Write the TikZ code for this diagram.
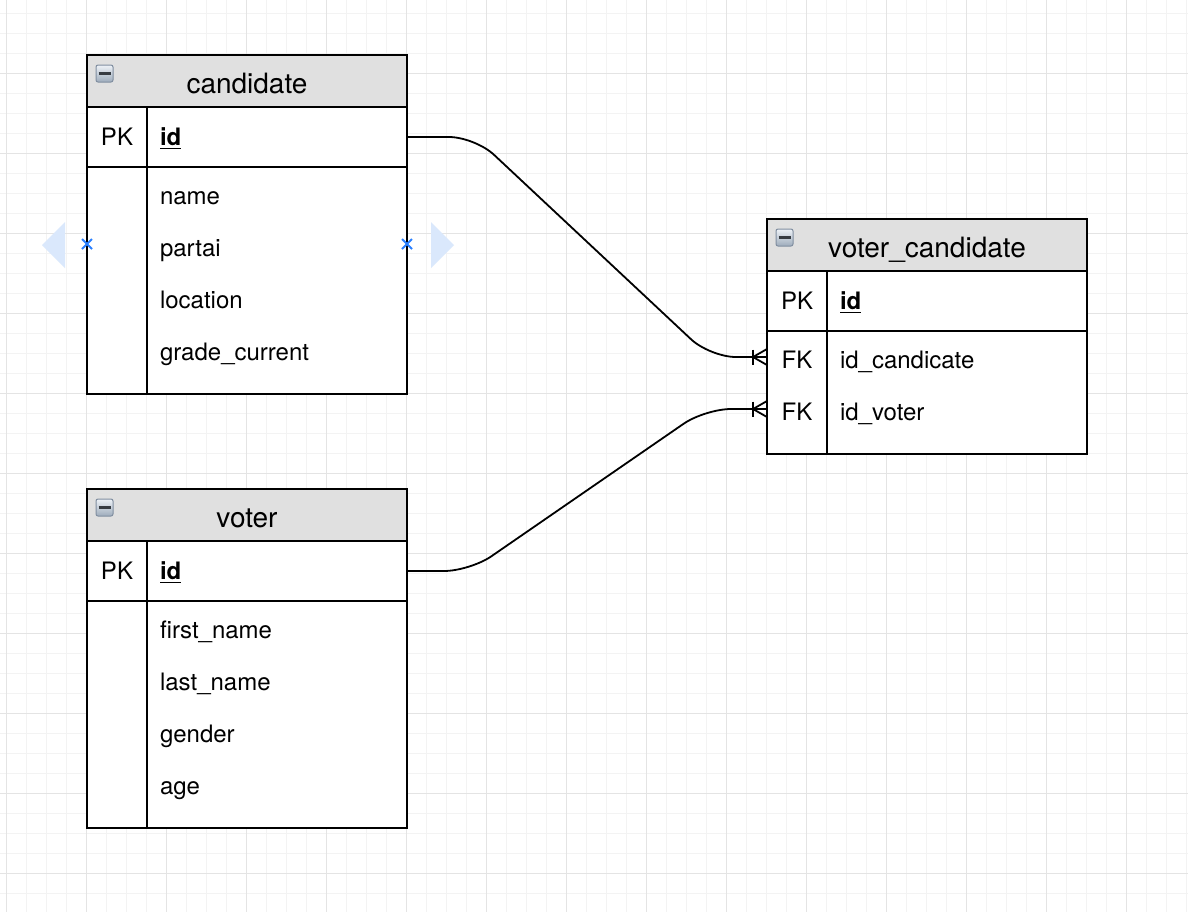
\documentclass[tikz,border=0pt]{standalone}
\usepackage{fontspec}
\setmainfont{TeX Gyre Heros}
\usepackage{tikz}
\usetikzlibrary{positioning, calc}

\definecolor{gridminor}{RGB}{243,243,243}
\definecolor{gridmajor}{RGB}{228,228,228}
\definecolor{headfill}{RGB}{224,224,224}
\definecolor{hoverblue}{RGB}{218,232,252}
\definecolor{pointblue}{RGB}{41,128,255}
\definecolor{icontop}{RGB}{238,242,247}
\definecolor{iconbottom}{RGB}{158,172,188}
\definecolor{iconedge}{RGB}{128,142,160}
\definecolor{icondash}{RGB}{55,60,66}

\tikzset{
  tablehead/.style={draw, line width=1pt, fill=headfill, minimum width=160pt,
    minimum height=26pt, inner sep=0, outer sep=0, text height=12pt, text depth=0pt,
    font=\fontsize{14pt}{16pt}\selectfont},
  pkrow/.style={draw, line width=1pt, fill=white, minimum width=160pt,
    minimum height=30pt, inner sep=0, outer sep=0},
  tablebody/.style={draw, line width=1pt, fill=white, minimum width=160pt,
    inner sep=0, outer sep=0},
  keycol/.style={minimum width=30pt, inner sep=0, outer sep=0, text height=10pt,
    text depth=2pt, font=\fontsize{12pt}{14pt}\selectfont},
  field/.style={anchor=west, inner sep=0, outer sep=0, text height=10pt, text depth=2pt,
    font=\fontsize{12pt}{14pt}\selectfont},
  nextfield/.style={below=14pt of #1.south west, anchor=north west},
  iconbox/.style={draw=iconedge, line width=0.5pt, rounded corners=1pt,
    minimum size=8.5pt, inner sep=0, top color=icontop, bottom color=iconbottom,
    path picture={\draw[line width=1.5pt, icondash]
      ([xshift=-3pt]path picture bounding box.center) --
      ([xshift=3pt]path picture bounding box.center);}},
  link/.style={line width=0.9pt, rounded corners=13pt},
  crow/.style={line width=0.9pt}
}

\begin{document}
\begin{tikzpicture}[x=0.5pt, y=-0.5pt]
  \useasboundingbox (0,0) rectangle (1188,912);
  \fill[white] (0,0) rectangle (1188,912);

  % grid
  \foreach \x in {6.5,26.5,...,1186.5}
    \draw[gridminor, line width=0.5pt] (\x,0) -- (\x,912);
  \foreach \y in {13,33,...,913}
    \draw[gridminor, line width=0.5pt] (0,\y) -- (1188,\y);
  \foreach \x in {6.5,86.5,...,1166.5}
    \draw[gridmajor, line width=0.5pt] (\x,0) -- (\x,912);
  \foreach \y in {73,153,...,873}
    \draw[gridmajor, line width=0.5pt] (0,\y) -- (1188,\y);

  % hover arrows
  \fill[hoverblue] (65,222) -- (42,245) -- (65,268) -- cycle;
  \fill[hoverblue] (431,222) -- (454,245) -- (431,268) -- cycle;

  % candidate
  \node[tablehead] (cand) at (247,81) {candidate};
  \node[iconbox] (candicon) at ([xshift=8.75pt,yshift=-9.25pt]cand.north west) {};
  \node[pkrow, below=0pt of cand] (candpk) {};
  \node[tablebody, minimum height=113.5pt, below=0pt of candpk] (candbody) {};
  \draw[line width=1pt] ([xshift=30pt]candpk.north west) -- ([xshift=30pt]candbody.south west);
  \node[keycol, right=0pt of candpk.west] (candkey) {PK};
  \node[field] (candid) at ([xshift=36.5pt]candpk.west) {\underline{\textbf{id}}};
  \node[field] (cand1) at ([xshift=36.5pt,yshift=-14.5pt]candbody.north west) {name};
  \node[field, nextfield=cand1] (cand2) {partai};
  \node[field, nextfield=cand2] (cand3) {location};
  \node[field, nextfield=cand3] (cand4) {grade\_current};

  % voter
  \node[tablehead] (voter) at (247,515) {voter};
  \node[iconbox] (votericon) at ([xshift=8.75pt,yshift=-9.25pt]voter.north west) {};
  \node[pkrow, below=0pt of voter] (voterpk) {};
  \node[tablebody, minimum height=113.5pt, below=0pt of voterpk] (voterbody) {};
  \draw[line width=1pt] ([xshift=30pt]voterpk.north west) -- ([xshift=30pt]voterbody.south west);
  \node[keycol, right=0pt of voterpk.west] (voterkey) {PK};
  \node[field] (voterid) at ([xshift=36.5pt]voterpk.west) {\underline{\textbf{id}}};
  \node[field] (voter1) at ([xshift=36.5pt,yshift=-14.5pt]voterbody.north west) {first\_name};
  \node[field, nextfield=voter1] (voter2) {last\_name};
  \node[field, nextfield=voter2] (voter3) {gender};
  \node[field, nextfield=voter3] (voter4) {age};

  % voter_candidate
  \node[tablehead] (vc) at (927,245) {voter\_candidate};
  \node[iconbox] (vcicon) at ([xshift=8.75pt,yshift=-9.25pt]vc.north west) {};
  \node[pkrow, below=0pt of vc] (vcpk) {};
  \node[tablebody, minimum height=61.5pt, below=0pt of vcpk] (vcbody) {};
  \draw[line width=1pt] ([xshift=30pt]vcpk.north west) -- ([xshift=30pt]vcbody.south west);
  \node[keycol, right=0pt of vcpk.west] (vckey) {PK};
  \node[field] (vcid) at ([xshift=36.5pt]vcpk.west) {\underline{\textbf{id}}};
  \node[keycol, anchor=west] (vcfk1) at ([yshift=-14.5pt]vcbody.north west) {FK};
  \node[keycol, below=14pt of vcfk1] (vcfk2) {FK};
  \node[field] (vc1) at ([xshift=36.5pt]vcfk1.west) {id\_candicate};
  \node[field] (vc2) at ([xshift=36.5pt]vcfk2.west) {id\_voter};

  % relations
  \coordinate (fkin1) at ([yshift=1.5pt]vcfk1.west);
  \coordinate (fkin2) at ([yshift=1.5pt]vcfk2.west);
  \draw[link] (candpk.east) -- ++(68,0) -- ($(fkin1)+(-57,0)$) -- (fkin1);
  \draw[link] (voterpk.east) -- ++(63,0) -- ($(fkin2)+(-62,0)$) -- (fkin2);
  \foreach \fk in {fkin1,fkin2} {
    \draw[crow] ([shift={(-14,-7.5)}]\fk) -- ([shift={(-14,7.5)}]\fk);
    \draw[crow] ([shift={(0,-8)}]\fk) -- ([xshift=-7pt]\fk) -- ([shift={(0,8)}]\fk);
  }

  % connection points
  \draw[pointblue, line width=1pt] (82,239) -- (92,249) (82,249) -- (92,239);
  \draw[pointblue, line width=1pt] (402,239) -- (412,249) (402,249) -- (412,239);
\end{tikzpicture}
\end{document}
